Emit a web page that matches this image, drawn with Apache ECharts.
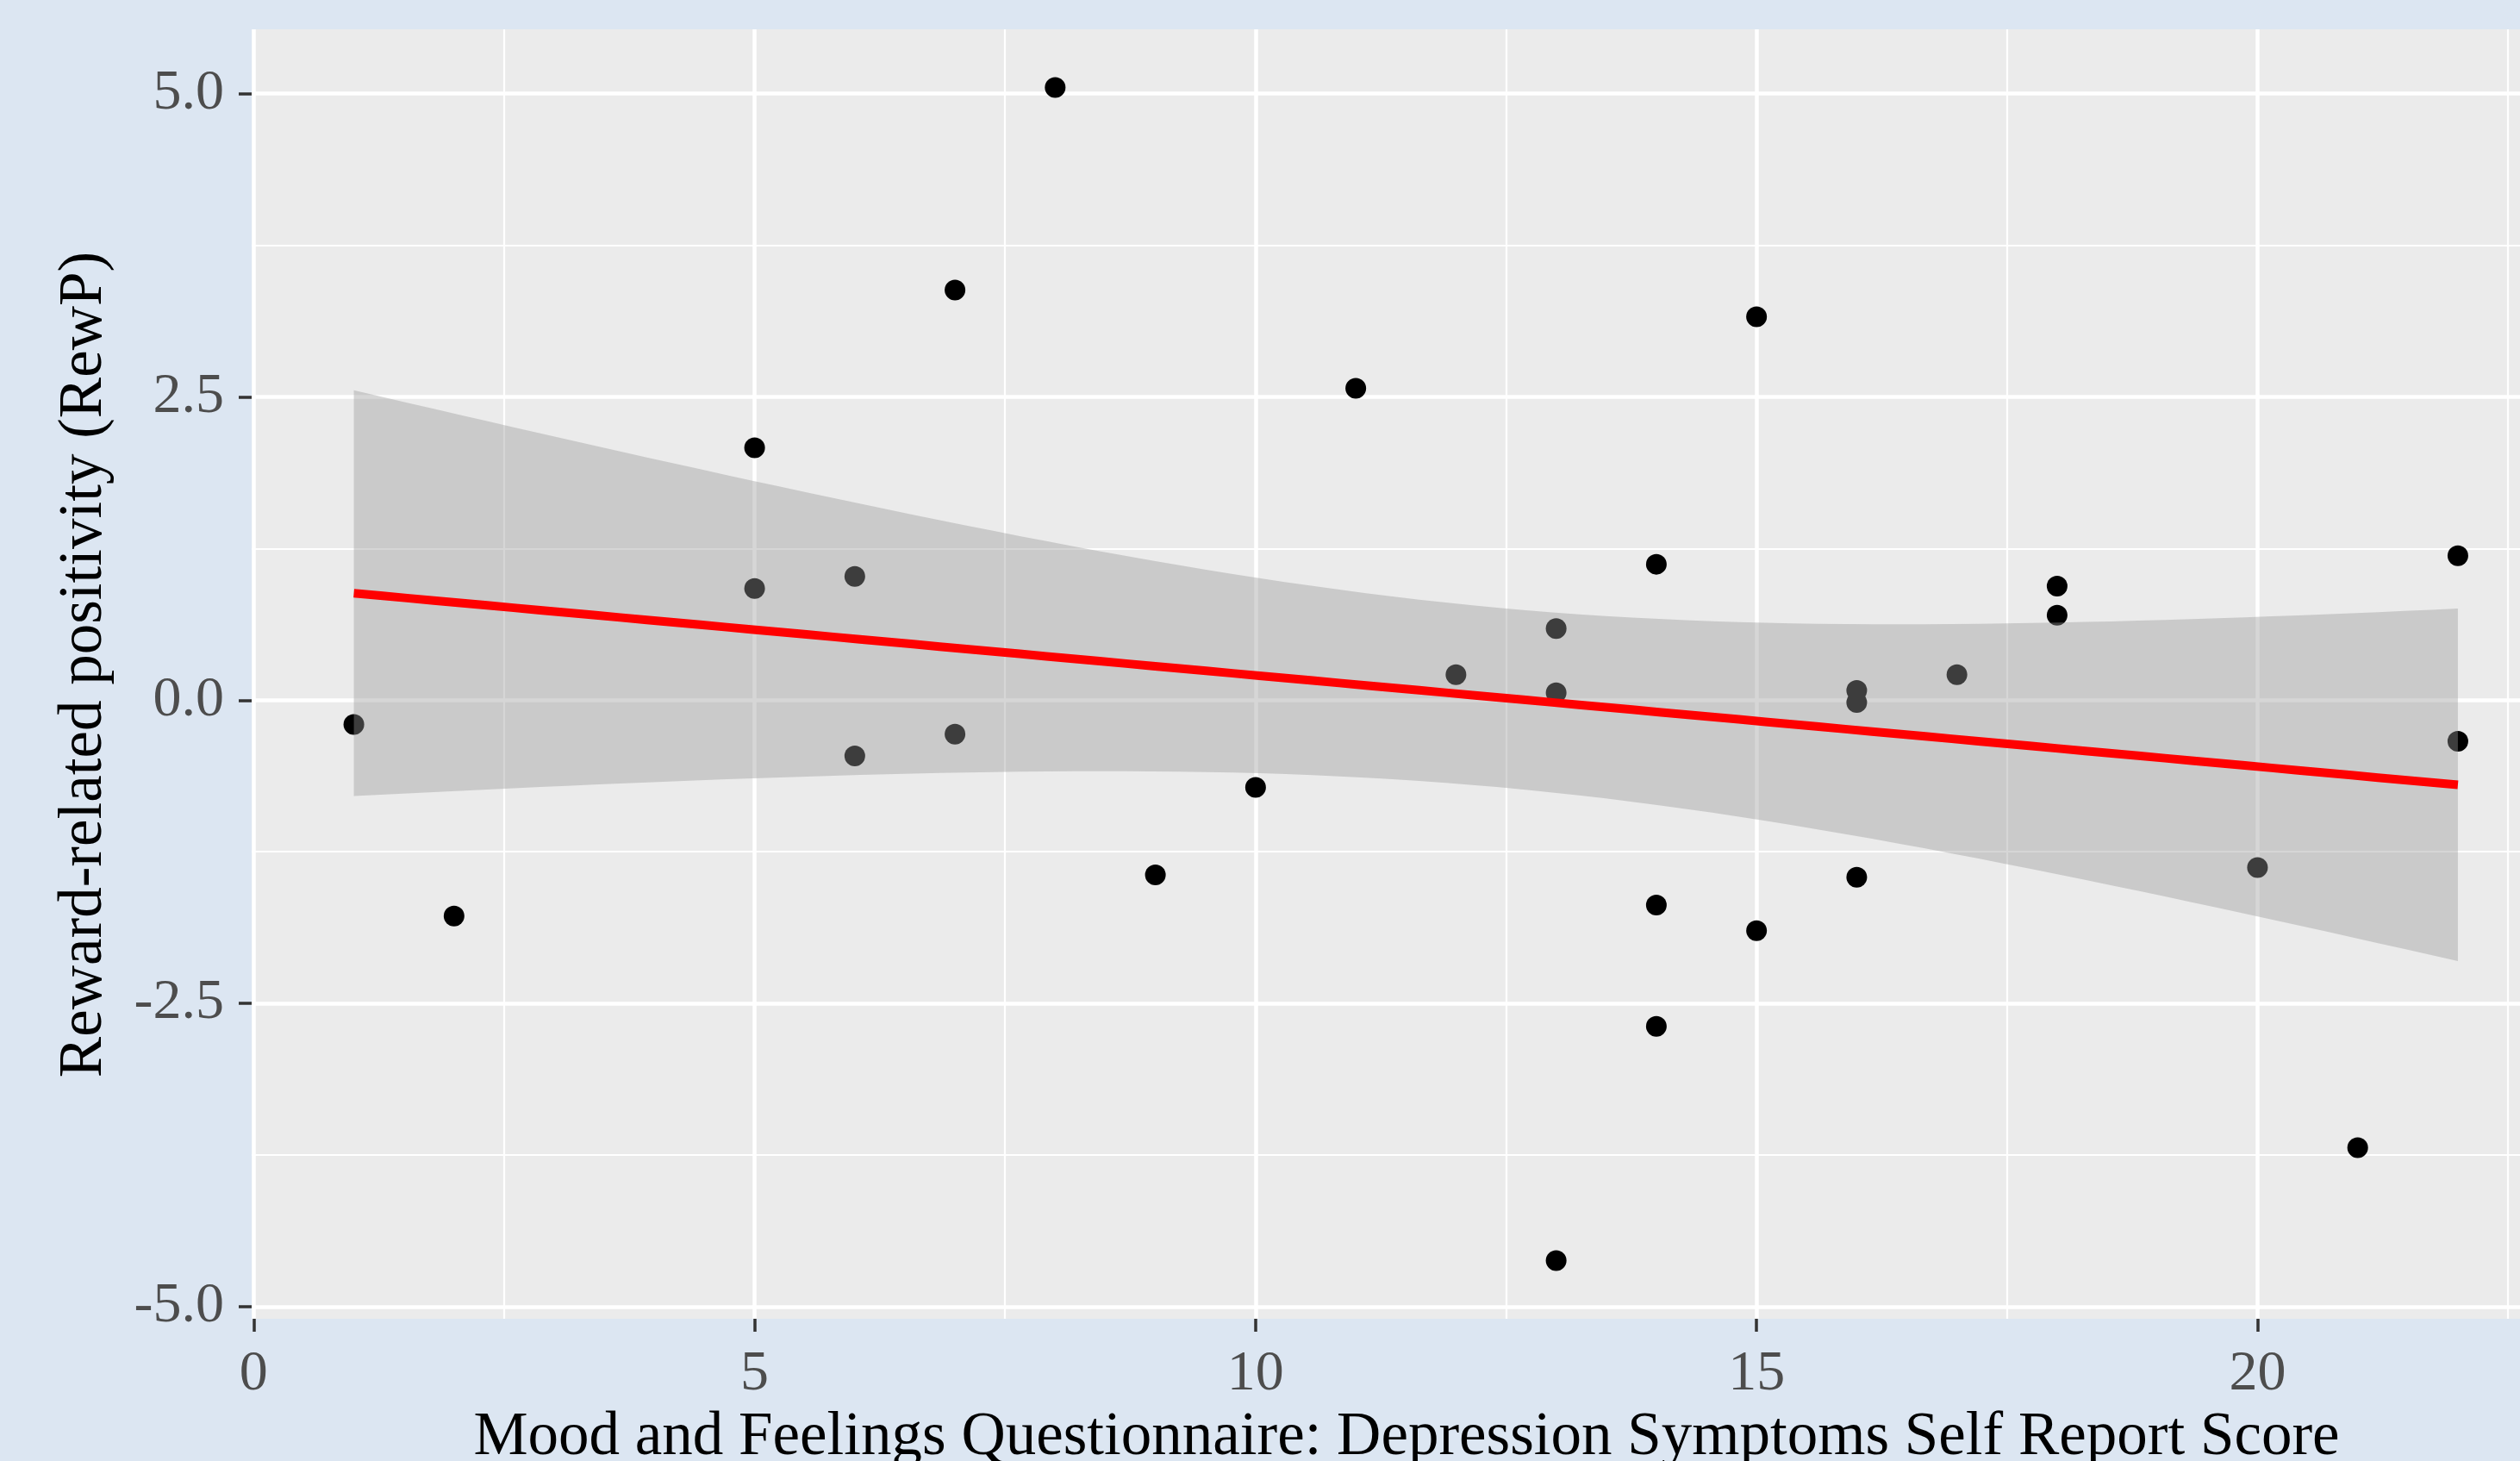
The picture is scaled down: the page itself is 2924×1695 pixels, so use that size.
<!DOCTYPE html>
<html><head><meta charset="utf-8">
<script src="https://cdn.jsdelivr.net/npm/echarts@6/dist/echarts.min.js"></script>
<style>html,body{margin:0;padding:0;background:#DCE6F2;} #c{width:2924px;height:1695px;}</style>
</head><body><div id="c"></div>
<script>
// ---- data ----
const depressionScore = [1,2,5,5,6,6,7,7,8,9,10,11,12,13,13,13,14,14,14,15,15,16,16,16,17,18,18,20,21,22,22];
const rewP = [-0.20,-1.78,2.08,0.92,1.02,-0.46,3.38,-0.28,5.05,-1.44,-0.72,2.57,0.21,0.59,0.06,-4.62,1.12,-1.69,-2.69,3.16,-1.90,0.08,-0.02,-1.46,0.21,0.94,0.70,-1.38,-3.69,1.19,-0.34];
const xMajorTicks = [0,5,10,15,20];
const xMinorTicks = [2.5,7.5,12.5,17.5,22.5];
const yMajorTicks = [-5,-2.5,0,2.5,5];
const yMinorTicks = [-3.75,-1.25,1.25,3.75];
const yTickLabels = ['-5.0','-2.5','0.0','2.5','5.0'];
const xTitle = 'Mood and Feelings Questionnaire: Depression Symptoms Self Report Score';
const yTitle = 'Reward-related positivity (RewP)';

// ---- linear model fit (lm) with 95% confidence band, as geom_smooth ----
const n = depressionScore.length;
const xbar = depressionScore.reduce((a,b)=>a+b,0)/n;
const ybar = rewP.reduce((a,b)=>a+b,0)/n;
let sxx=0, sxy=0;
for (let i=0;i<n;i++){ sxx += (depressionScore[i]-xbar)**2; sxy += (depressionScore[i]-xbar)*(rewP[i]-ybar); }
const slope = sxy/sxx, intercept = ybar - slope*xbar;
let sse=0;
for (let i=0;i<n;i++){ sse += (rewP[i]-(intercept+slope*depressionScore[i]))**2; }
const s = Math.sqrt(sse/(n-2));
const tq = 2.04523; // t(0.975, df=29)
const xMin = Math.min(...depressionScore), xMax = Math.max(...depressionScore);
const gridX = [], fitY = [], lowY = [], upY = [];
for (let k=0;k<80;k++){
  const x = xMin + (xMax-xMin)*k/79;
  const f = intercept + slope*x;
  const se = s*Math.sqrt(1/n + (x-xbar)**2/sxx);
  gridX.push(x); fitY.push(f); lowY.push(f-tq*se); upY.push(f+tq*se);
}

const chart = echarts.init(document.getElementById('c'), null, {renderer:'canvas'});
const font = 'Liberation Serif';
const tickStyle = {show:true, length:15, lineStyle:{color:'#333333', width:3.5}};
chart.setOption({
  backgroundColor:'#DCE6F2',
  animation:false,
  grid:{left:292, right:0, top:34, bottom:165, show:true, backgroundColor:'#EBEBEB', borderWidth:0,
        containLabel:false, outerBoundsMode:'none'},
  xAxis:[
    {type:'value', min:-0.02, max:22.62, position:'bottom',
     axisLine:{show:false, onZero:false},
     axisTick:Object.assign({customValues:xMajorTicks}, tickStyle),
     axisLabel:{customValues:xMajorTicks, fontFamily:font, fontSize:66, color:'#4D4D4D', margin:32},
     splitLine:{show:true, lineStyle:{color:'#FFFFFF', width:4.5}},
     name:xTitle, nameLocation:'middle', nameGap:102,
     nameTextStyle:{fontFamily:font, fontSize:71, color:'#000000', padding:[0,0,0,48]}
    },
    {type:'value', min:-0.02, max:22.62, position:'bottom',
     axisLine:{show:false, onZero:false}, axisLabel:{show:false},
     axisTick:{show:false, customValues:xMinorTicks},
     splitLine:{show:true, lineStyle:{color:'#FFFFFF', width:2.2}}
    }
  ],
  yAxis:[
    {type:'value', min:-5.1, max:5.53, position:'left',
     axisLine:{show:false, onZero:false},
     axisTick:Object.assign({customValues:yMajorTicks}, tickStyle),
     axisLabel:{customValues:yMajorTicks, fontFamily:font, fontSize:66, color:'#4D4D4D', margin:32,
       formatter:(v)=>yTickLabels[yMajorTicks.indexOf(v)]},
     splitLine:{show:true, lineStyle:{color:'#FFFFFF', width:4.5}},
     name:yTitle, nameLocation:'middle', nameGap:158, nameRotate:90,
     nameTextStyle:{fontFamily:font, fontSize:71, color:'#000000', padding:[0,0,0,22]}
    },
    {type:'value', min:-5.1, max:5.53, position:'left',
     axisLine:{show:false, onZero:false}, axisLabel:{show:false},
     axisTick:{show:false, customValues:yMinorTicks},
     splitLine:{show:true, lineStyle:{color:'#FFFFFF', width:2.2}}
    }
  ],
  series:[
    {type:'scatter', xAxisIndex:0, yAxisIndex:0, symbolSize:24, z:2,
     itemStyle:{color:'#000000', opacity:1},
     data: depressionScore.map((x,i)=>[x, rewP[i]])},
    {type:'custom', xAxisIndex:0, yAxisIndex:0, clip:true, z:3,
     data:[[xMin, 0]],
     renderItem:(params, api)=>{
       const pts = [];
       for (let k=0;k<gridX.length;k++) pts.push(api.coord([gridX[k], upY[k]]));
       for (let k=gridX.length-1;k>=0;k--) pts.push(api.coord([gridX[k], lowY[k]]));
       return {type:'polygon', shape:{points:pts}, style:{fill:'rgba(153,153,153,0.4)'}};
     }},
    {type:'line', xAxisIndex:0, yAxisIndex:0, showSymbol:false, symbol:'none', z:4,
     lineStyle:{color:'#FF0000', width:10},
     data: gridX.map((x,k)=>[x, fitY[k]])}
  ]
});
</script>
</body></html>
